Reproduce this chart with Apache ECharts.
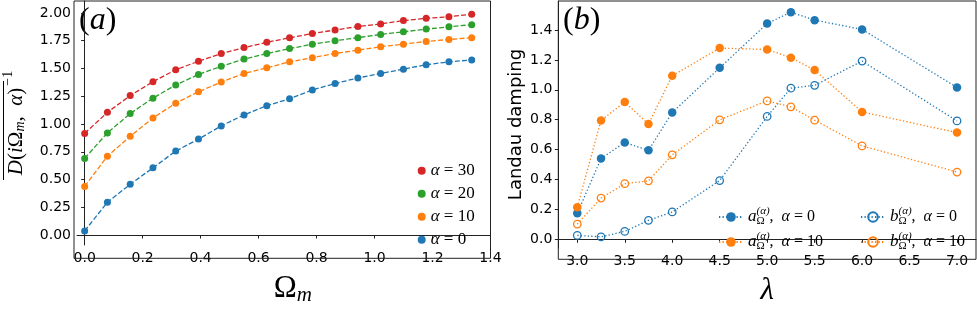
<!DOCTYPE html>
<html><head><meta charset="utf-8">
<script src="https://cdn.jsdelivr.net/npm/echarts@6/dist/echarts.min.js"></script>
<style>html,body{margin:0;padding:0;background:#fff}#c{width:977px;height:311px}</style>
</head><body><div id="c"></div>
<script>
// ---------- data: panel (a) ----------
const omegaM = [0, 0.0785, 0.1571, 0.2356, 0.3142, 0.3927, 0.4712, 0.5498, 0.6283,
  0.7069, 0.7854, 0.8639, 0.9425, 1.0210, 1.0996, 1.1781, 1.2566, 1.3352];
const invD30 = [0.915, 1.105, 1.256, 1.381, 1.489, 1.565, 1.634, 1.688, 1.736, 1.776, 1.815, 1.847, 1.878, 1.901, 1.932, 1.952, 1.966, 1.989];
const invD20 = [0.690, 0.920, 1.094, 1.233, 1.352, 1.446, 1.520, 1.585, 1.634, 1.679, 1.719, 1.750, 1.778, 1.807, 1.830, 1.855, 1.875, 1.895];
const invD10 = [0.438, 0.710, 0.889, 1.054, 1.188, 1.290, 1.378, 1.455, 1.506, 1.560, 1.597, 1.636, 1.665, 1.696, 1.719, 1.744, 1.761, 1.778];
const invD0  = [0.037, 0.295, 0.457, 0.605, 0.756, 0.864, 0.983, 1.082, 1.165, 1.227, 1.307, 1.364, 1.415, 1.455, 1.494, 1.534, 1.560, 1.577];
const aXTicks = [0, 0.2, 0.4, 0.6, 0.8, 1.0, 1.2, 1.4];
const aYTicks = [0, 0.25, 0.5, 0.75, 1.0, 1.25, 1.5, 1.75, 2.0];

// ---------- data: panel (b) ----------
const lambdaVals = [3.0, 3.25, 3.5, 3.75, 4.0, 4.5, 5.0, 5.25, 5.5, 6.0, 7.0];
const aOmega0  = [0.174, 0.540, 0.648, 0.595, 0.848, 1.147, 1.443, 1.519, 1.466, 1.404, 1.016];
const aOmega10 = [0.215, 0.795, 0.918, 0.771, 1.094, 1.279, 1.270, 1.215, 1.132, 0.852, 0.714];
const bOmega0  = [0.026, 0.017, 0.053, 0.127, 0.183, 0.393, 0.822, 1.011, 1.030, 1.192, 0.792];
const bOmega10 = [0.102, 0.276, 0.372, 0.391, 0.565, 0.799, 0.926, 0.886, 0.797, 0.625, 0.450];
const bXTicks = [3.0, 3.5, 4.0, 4.5, 5.0, 5.5, 6.0, 6.5, 7.0];
const bYTicks = [0, 0.2, 0.4, 0.6, 0.8, 1.0, 1.2, 1.4];

const BLUE = '#1f77b4', ORANGE = '#ff7f0e', GREEN = '#2ca02c', RED = '#d62728';
const SERIF = 'Liberation Serif', SANS = 'DejaVu Sans';
const INK = '#222';

function zip(xs, ys) { return xs.map((x, i) => [x, ys[i]]); }

function valueAxis(gi, min, max, ticks, digits, extra) {
  return Object.assign({
    type: 'value', gridIndex: gi, min: min, max: max,
    axisLine: { show: true, lineStyle: { color: INK, width: 1 } },
    axisTick: { show: true, length: 3.5, customValues: ticks, lineStyle: { color: INK, width: 1 } },
    axisLabel: { customValues: ticks, formatter: v => v.toFixed(digits), fontFamily: SANS, fontSize: 14, color: '#000', margin: 6 },
    splitLine: { show: false }
  }, extra || {});
}

const leftSeries = [
  ['α = 30', invD30, RED], ['α = 20', invD20, GREEN], ['α = 10', invD10, ORANGE], ['α = 0', invD0, BLUE]
].map(([name, ys, col]) => ({
  name: name, type: 'line', xAxisIndex: 0, yAxisIndex: 0,
  data: zip(omegaM, ys), symbol: 'circle', symbolSize: 7,
  itemStyle: { color: col },
  lineStyle: { color: col, width: 1.3, type: [5, 2.2] }
}));

const rightSeries = [
  ['a0', aOmega0, BLUE, true], ['a10', aOmega10, ORANGE, true],
  ['b0', bOmega0, BLUE, false], ['b10', bOmega10, ORANGE, false]
].map(([name, ys, col, filled]) => ({
  name: name, type: 'line', xAxisIndex: 1, yAxisIndex: 1,
  data: zip(lambdaVals, ys), symbol: 'circle', symbolSize: filled ? 8.5 : 7.5,
  itemStyle: filled ? { color: col } : { color: 'rgba(0,0,0,0)', borderColor: col, borderWidth: 1.3 },
  lineStyle: { color: col, width: 1.3, type: [1.3, 2.2] }
}));

const legRich = {
  v: { fontFamily: SERIF, fontStyle: 'italic', fontSize: 17, color: '#000' },
  sub: { fontFamily: SERIF, fontSize: 11, width: 0, padding: [9, 0, 0, 0], color: '#000' },
  sup: { fontFamily: SERIF, fontStyle: 'italic', fontSize: 11, padding: [0, 0, 11, 0], color: '#000' },
  t: { fontFamily: SERIF, fontSize: 16, color: '#000' },
  ti: { fontFamily: SERIF, fontStyle: 'italic', fontSize: 16, color: '#000' }
};
function bFmt(name) {
  const letter = name[0], a = name.slice(1);
  return '{v|' + letter + '}{sub|Ω}{sup|(α)}{t|,  }{ti|α}{t| = ' + a + '}';
}

const option = {
  backgroundColor: '#fff',
  animation: false,
  grid: [
    { left: 74, top: 1, width: 416.5, height: 257.3, containLabel: false, show: false },
    { left: 558.3, top: 1, width: 417.7, height: 258.3, containLabel: false, show: false }
  ],
  xAxis: [
    valueAxis(0, -0.0264, 1.4, aXTicks, 1, {
      name: '{r|Ω}{s|m}', nameLocation: 'middle', nameGap: 26,
      nameTextStyle: { padding: [0, 0, 0, 18], rich: { r: { fontFamily: SERIF, fontSize: 31, color: '#000' }, s: { fontFamily: SERIF, fontStyle: 'italic', fontSize: 21, padding: [14, 0, 0, 0], color: '#000' } } }
    }),
    valueAxis(1, 2.8, 7.2, bXTicks, 1, {
      name: '{i|λ}', nameLocation: 'middle', nameGap: 27,
      nameTextStyle: { rich: { i: { fontFamily: SERIF, fontStyle: 'italic', fontSize: 31, color: '#000' } } }
    })
  ],
  yAxis: [
    valueAxis(0, -0.09, 2.108, aYTicks, 2, {
      name: '{i|D}{r|(}{i|i}{r|Ω}{s|m}{r|,  }{i|α}{r|)}{p|−1}', nameLocation: 'middle', nameGap: 46,
      nameTextStyle: { rich: {
        r: { fontFamily: SERIF, fontSize: 21, color: '#000' },
        i: { fontFamily: SERIF, fontStyle: 'italic', fontSize: 21, color: '#000' },
        s: { fontFamily: SERIF, fontStyle: 'italic', fontSize: 14, padding: [8, 0, 0, 0], color: '#000' },
        p: { fontFamily: SERIF, fontSize: 14, padding: [0, 0, 16, 2], color: '#000' }
      } }
    }),
    valueAxis(1, -0.058, 1.594, bYTicks, 1, {
      name: 'Landau damping', nameLocation: 'middle', nameGap: 33,
      nameTextStyle: { fontFamily: SANS, fontSize: 18, color: '#000' }
    })
  ],
  legend: [
    { data: leftSeries.map(s => s.name), orient: 'vertical', left: 417.7, top: 162.2,
      icon: 'circle', itemWidth: 8, itemHeight: 8, itemGap: 6, padding: 0,
      formatter: n => '{i|α}{t| = ' + n.split('= ')[1] + '}',
      textStyle: { lineHeight: 17, rich: { i: { fontFamily: SERIF, fontStyle: 'italic', fontSize: 17, color: '#000' }, t: { fontFamily: SERIF, fontSize: 17, color: '#000' } } } },
    { data: ['a0', 'a10'], orient: 'vertical', left: 718, top: 206, padding: 0,
      itemWidth: 24, itemHeight: 12, itemGap: 4, formatter: bFmt, textStyle: { lineHeight: 20, rich: legRich } },
    { data: ['b0', 'b10'], orient: 'vertical', left: 860, top: 206, padding: 0,
      itemWidth: 24, itemHeight: 12, itemGap: 4, formatter: bFmt, textStyle: { lineHeight: 20, rich: legRich } }
  ],
  graphic: [
    { type: 'rect', shape: { x: 74, y: 1, width: 416.5, height: 257.3 }, style: { fill: 'none', stroke: INK, lineWidth: 1 }, silent: true, z: 10 },
    { type: 'rect', shape: { x: 558.3, y: 1, width: 417.7, height: 258.3 }, style: { fill: 'none', stroke: INK, lineWidth: 1 }, silent: true, z: 10 },
    { type: 'text', left: 79, top: 5, style: { text: '({i|a})', fontFamily: SERIF, fontSize: 32, fill: '#000', rich: { i: { fontFamily: SERIF, fontStyle: 'italic', fontSize: 32 } } } },
    { type: 'text', left: 563, top: 5, style: { text: '({i|b})', fontFamily: SERIF, fontSize: 32, fill: '#000', rich: { i: { fontFamily: SERIF, fontStyle: 'italic', fontSize: 32 } } } },
    { type: 'rect', shape: { x: 3, y: 81, width: 1, height: 99 }, style: { fill: '#000' }, silent: true }
  ],
  series: leftSeries.concat(rightSeries)
};

const chart = echarts.init(document.getElementById('c'), null, { renderer: 'canvas' });
chart.setOption(option);
</script>
</body></html>
